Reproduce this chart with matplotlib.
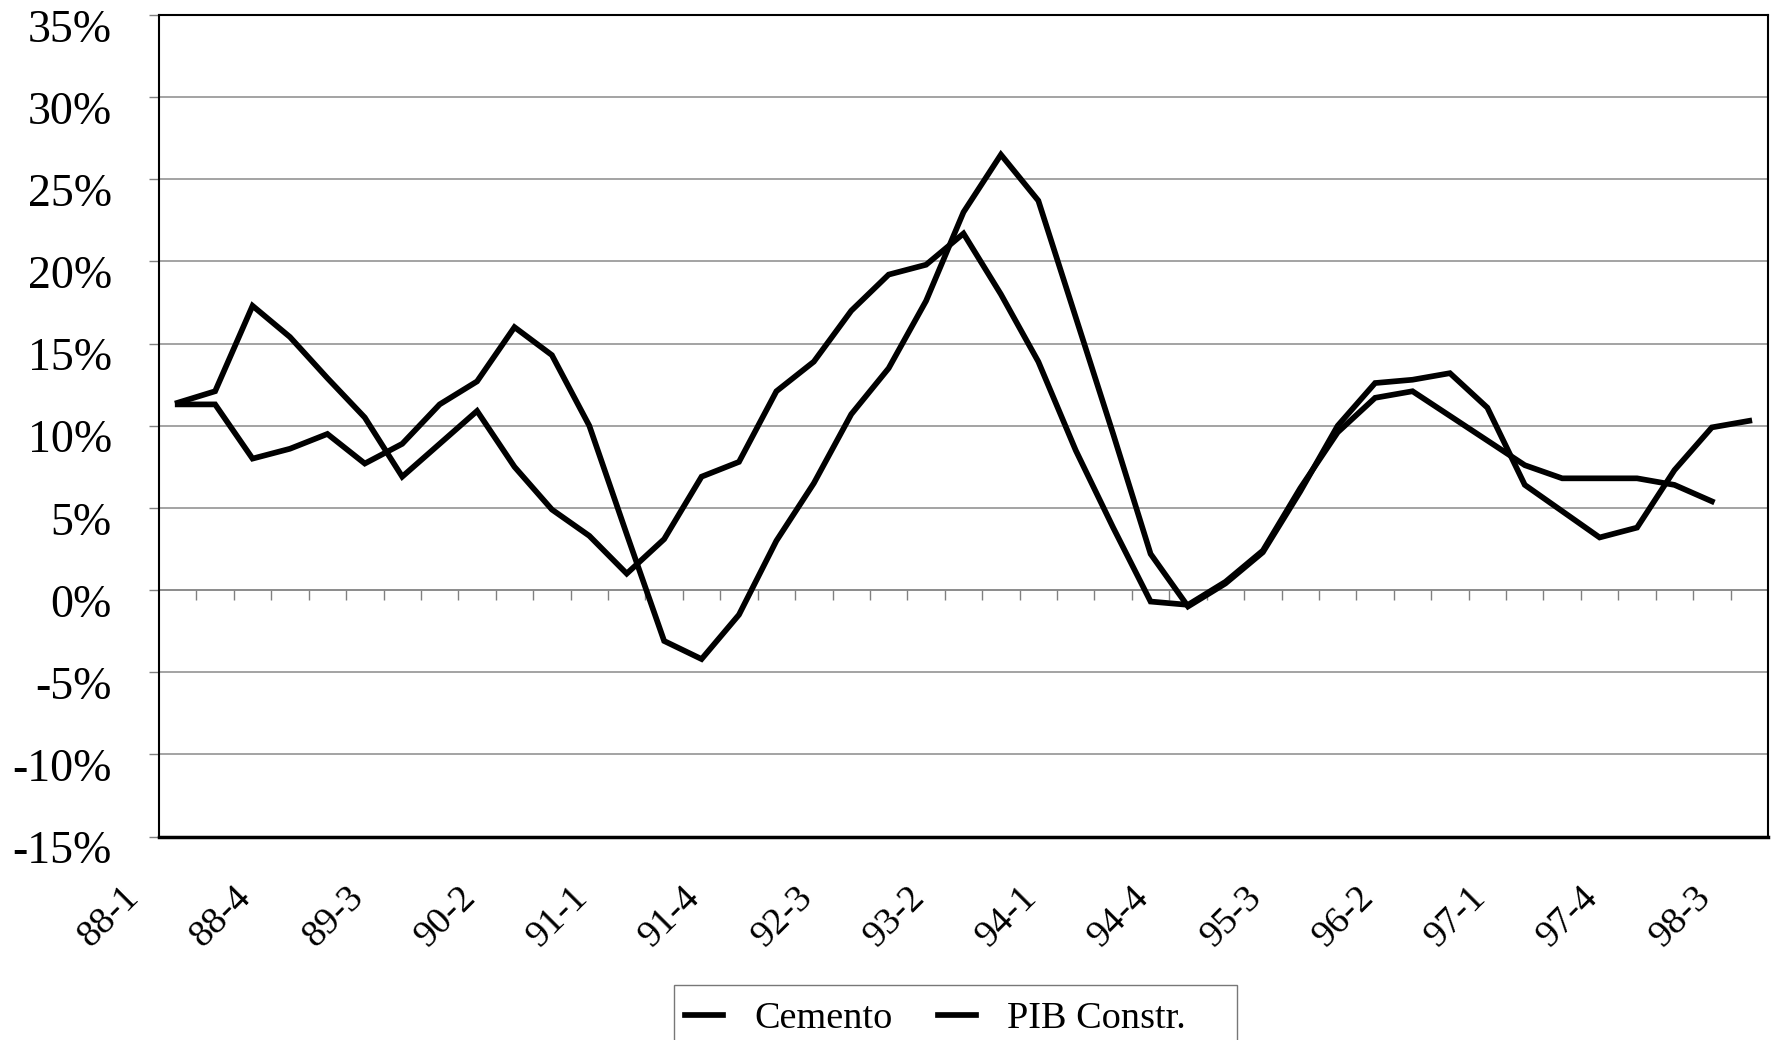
import matplotlib
matplotlib.use("Agg")
import matplotlib.pyplot as plt
from matplotlib.transforms import ScaledTranslation
from matplotlib.ticker import FuncFormatter
from matplotlib.patches import Rectangle

plt.rcParams['font.family'] = ['Liberation Serif', 'DejaVu Serif']

quarters = ["88-1", "88-2", "88-3", "88-4", "89-1", "89-2", "89-3", "89-4",
            "90-1", "90-2", "90-3", "90-4", "91-1", "91-2", "91-3", "91-4",
            "92-1", "92-2", "92-3", "92-4", "93-1", "93-2", "93-3", "93-4",
            "94-1", "94-2", "94-3", "94-4", "95-1", "95-2", "95-3", "95-4",
            "96-1", "96-2", "96-3", "96-4", "97-1", "97-2", "97-3", "97-4",
            "98-1", "98-2", "98-3"]

cemento = [11.3, 11.3, 8.0, 8.6, 9.5, 7.7, 8.9, 11.3, 12.7, 16.0,
           14.3, 10.0, 3.4, -3.1, -4.2, -1.5, 3.0, 6.5, 10.7, 13.5,
           17.6, 23.0, 26.5, 23.7, 16.6, 9.5, 2.2, -1.0, 0.4, 2.3,
           6.0, 10.0, 12.6, 12.8, 13.2, 11.1, 6.4, 4.8, 3.2, 3.8,
           7.3, 9.9, 10.3]

pib_constr = [11.4, 12.1, 17.3, 15.4, 12.9, 10.5, 6.9, 8.9, 10.9, 7.5,
              4.9, 3.3, 1.0, 3.1, 6.9, 7.8, 12.1, 13.9, 17.0, 19.2,
              19.8, 21.7, 18.0, 13.9, 8.5, 3.8, -0.7, -0.9, 0.5, 2.4,
              6.2, 9.6, 11.7, 12.1, 10.6, 9.1, 7.6, 6.8, 6.8, 6.8,
              6.4, 5.4]

series_names = ["Cemento", "PIB Constr."]
y_ticks = [-15, -10, -5, 0, 5, 10, 15, 20, 25, 30, 35]
label_step = 3

W, H, DPI = 1771, 1040, 100
fig = plt.figure(figsize=(W / DPI, H / DPI), dpi=DPI)
ax = fig.add_axes([159 / W, (H - 836.5) / H, 1609 / W, (836.5 - 15) / H])

x_c = list(range(len(cemento)))
x_p = list(range(len(pib_constr)))
lw = 4.1
ax.plot(x_c, cemento, color='black', lw=lw, label=series_names[0], zorder=5,
        solid_joinstyle='miter')
ax.plot(x_p, pib_constr, color='black', lw=lw, label=series_names[1], zorder=5,
        solid_joinstyle='miter')

ax.set_xlim(-0.5, len(quarters) - 0.5)
ax.set_ylim(y_ticks[0], y_ticks[-1])

# y axis
ax.set_yticks(y_ticks)
ax.yaxis.set_major_formatter(FuncFormatter(lambda v, p: f"{v:.0f}%"))
ax.tick_params(axis='y', direction='out', length=7, width=1, color='#808080',
               labelsize=33, pad=27)
ax.yaxis.grid(True, color='#8a8a8a', lw=1.1, zorder=1)
ax.set_axisbelow(True)

# x axis labels at bottom
lab_idx = list(range(0, len(quarters), label_step))
ax.set_xticks(lab_idx)
ax.set_xticklabels([quarters[i] for i in lab_idx])
ax.tick_params(axis='x', length=0, labelsize=27.5, pad=40)
for lab in ax.get_xticklabels():
    lab.set_rotation(45)
    lab.set_ha('right')
    lab.set_va('center')
    lab.set_rotation_mode('anchor')
    lab.set_transform(lab.get_transform() + ScaledTranslation(-44 / DPI, 0, fig.dpi_scale_trans))
for lab in ax.get_yticklabels():
    lab.set_transform(lab.get_transform() + ScaledTranslation(0, -10.5 / DPI, fig.dpi_scale_trans))

# category axis at 0% with boundary tick marks
zero_loc = (0 - y_ticks[0]) / (y_ticks[-1] - y_ticks[0])
sec = ax.secondary_xaxis(zero_loc)
sec.set_xticks([i + 0.5 for i in range(len(quarters) - 1)])
sec.tick_params(axis='x', direction='out', length=7, width=1, color='#808080',
                labelbottom=False, labeltop=False)
sec.spines['bottom'].set_color('#808080')
sec.spines['bottom'].set_linewidth(1.1)

for s in ['left', 'right', 'top']:
    ax.spines[s].set_color('black')
    ax.spines[s].set_linewidth(1.5)
ax.spines['bottom'].set_color('black')
ax.spines['bottom'].set_linewidth(2.5)

# legend box (extends past the bottom edge as in the original)
box = Rectangle((674 / W, -0.05), (1237 - 674) / W, (1 - 985 / H) + 0.05,
                transform=fig.transFigure, facecolor='white',
                edgecolor='#777777', lw=1.0, zorder=0)
fig.add_artist(box)
leg = fig.legend(loc='upper left', bbox_to_anchor=(668 / W, 1 - 984 / H),
                 ncol=2, fontsize=27.5, frameon=False,
                 handlelength=1.0, handletextpad=0.8, columnspacing=1.2,
                 borderpad=0.45, borderaxespad=0)
leg.set_zorder(2)

fig.savefig("out.png", dpi=DPI)
